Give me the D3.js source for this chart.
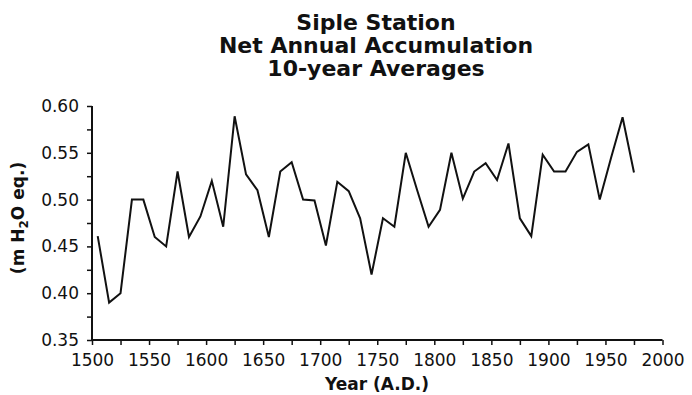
<!DOCTYPE html>
<html>
<head>
<meta charset="utf-8">
<script src="https://cdn.jsdelivr.net/npm/d3@7"></script>
<style>
  html, body { margin: 0; padding: 0; background: #fff; }
  svg { display: block; }
  text { font-family: "DejaVu Sans", sans-serif; fill: #111; }
</style>
</head>
<body>
<svg id="chart" width="692" height="395"></svg>
<script>
const titleLines = ["Siple Station", "Net Annual Accumulation", "10-year Averages"];
const xLabel = "Year (A.D.)";
const years = [1505,1515,1525,1535,1545,1555,1565,1575,1585,1595,
               1605,1615,1625,1635,1645,1655,1665,1675,1685,1695,
               1705,1715,1725,1735,1745,1755,1765,1775,1785,1795,
               1805,1815,1825,1835,1845,1855,1865,1875,1885,1895,
               1905,1915,1925,1935,1945,1955,1965,1975];
const accumulation = [0.461,0.390,0.400,0.500,0.500,0.460,0.450,0.530,0.460,0.482,
                      0.520,0.471,0.589,0.527,0.510,0.460,0.530,0.540,0.500,0.499,
                      0.451,0.519,0.509,0.480,0.420,0.480,0.471,0.550,0.510,0.471,
                      0.489,0.550,0.501,0.530,0.539,0.521,0.560,0.480,0.461,0.548,
                      0.530,0.530,0.551,0.559,0.500,0.545,0.588,0.529];
const xTicks = [1500,1525,1550,1575,1600,1625,1650,1675,1700,1725,1750,1775,1800,1825,1850,1875,1900,1925,1950,1975,2000];
const xTickLabels = [1500,1550,1600,1650,1700,1750,1800,1850,1900,1950,2000];
const yTicks = [0.35,0.375,0.40,0.425,0.45,0.475,0.50,0.525,0.55,0.575,0.60];
const yTickLabels = [0.35,0.40,0.45,0.50,0.55,0.60];

const svg = d3.select("#chart");
const mLeft = 92, mRight = 662.5, mTop = 106, mBottom = 340;

const x = d3.scaleLinear().domain([1500, 2000]).range([mLeft, mRight]);
const y = d3.scaleLinear().domain([0.35, 0.60]).range([mBottom, mTop]);

// Title
const title = svg.append("text")
  .attr("text-anchor", "middle")
  .style("font-weight", "bold")
  .style("font-size", "22px");
titleLines.forEach((t, i) => {
  title.append("tspan").attr("x", 376).attr("y", 30 + i * 23).text(t);
});

// X axis
const xAxis = d3.axisBottom(x)
  .tickValues(xTicks)
  .tickSize(5)
  .tickPadding(9)
  .tickFormat(d => xTickLabels.includes(d) ? String(d) : "");
const gx = svg.append("g").attr("transform", `translate(0,${mBottom})`).call(xAxis);

// Y axis
const yAxis = d3.axisLeft(y)
  .tickValues(yTicks)
  .tickSize(5)
  .tickPadding(8)
  .tickFormat(d => yTickLabels.some(v => Math.abs(v - d) < 1e-9) ? d3.format(".2f")(d) : "");
const gy = svg.append("g").attr("transform", `translate(${mLeft},0)`).call(yAxis);

[gx, gy].forEach(g => {
  g.select(".domain").attr("stroke", "#111").attr("stroke-width", 2);
  g.selectAll(".tick line").attr("stroke", "#111").attr("stroke-width", 1.5);
  g.selectAll(".tick text")
    .style("font-family", "'DejaVu Sans', sans-serif")
    .style("font-size", "17px")
    .attr("fill", "#111");
});
gy.select(".domain").attr("d", `M0,${mBottom}V${mTop}`);
gx.select(".domain").attr("d", `M${mLeft},0H${mRight}`);

// X label
svg.append("text")
  .attr("x", 377).attr("y", 390)
  .attr("text-anchor", "middle")
  .style("font-weight", "bold")
  .style("font-size", "17px")
  .text(xLabel);

// Y label
const yl = svg.append("text")
  .attr("transform", "translate(24,218) rotate(-90)")
  .attr("text-anchor", "middle")
  .style("font-weight", "bold")
  .style("font-size", "17px");
yl.append("tspan").text("(m H");
yl.append("tspan").attr("dy", 4).style("font-size", "12px").text("2");
yl.append("tspan").attr("dy", -4).text("O eq.)");

// Line
const line = d3.line()
  .x((d, i) => x(years[i]))
  .y(d => y(d));
svg.append("path")
  .datum(accumulation)
  .attr("d", line)
  .attr("fill", "none")
  .attr("stroke", "#111")
  .attr("stroke-width", 2)
  .attr("stroke-linejoin", "miter");
</script>
</body>
</html>
